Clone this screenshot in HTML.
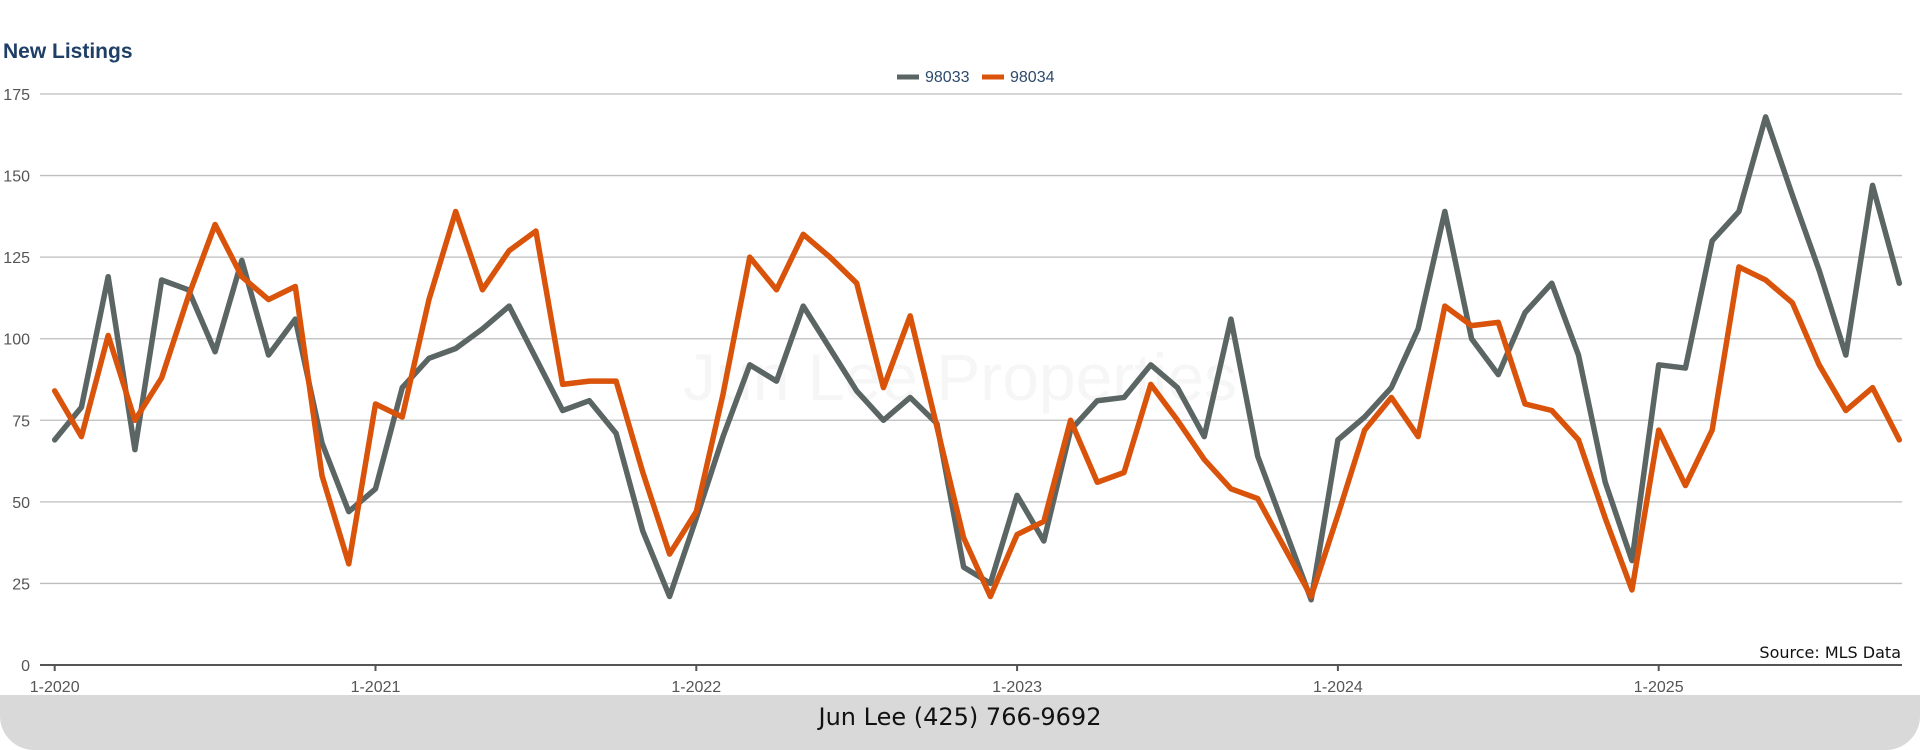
<!DOCTYPE html>
<html><head><meta charset="utf-8"><style>
html,body{margin:0;padding:0;background:#fff;}
body{width:1920px;height:750px;position:relative;overflow:hidden;font-family:"Liberation Sans",sans-serif;}
#footer{position:absolute;left:0;top:695px;width:1920px;height:55px;background:#d9d9d9;border-radius:0 0 34px 34px;}
#footer span{position:absolute;left:0;right:0;top:8px;text-align:center;font-size:24px;color:#111;font-family:"DejaVu Sans","Liberation Sans",sans-serif;}
</style></head><body>
<svg id="chart" width="1920" height="695" style="position:absolute;left:0;top:0">
<text x="3" y="58" font-size="21" font-weight="bold" fill="#1f3f66">New Listings</text>
<text x="960" y="400" text-anchor="middle" font-size="66" fill="#f6f6f6">Jun Lee Properties</text>
<g id="grid"></g><g id="lines"></g>
<g>
<line x1="897" y1="77" x2="919" y2="77" stroke="#5b6664" stroke-width="5"/>
<text x="925" y="82" font-size="16" fill="#2c4a6b">98033</text>
<line x1="982" y1="77" x2="1004" y2="77" stroke="#d9530b" stroke-width="5"/>
<text x="1010" y="82" font-size="16" fill="#2c4a6b">98034</text>
</g>
<text x="1901" y="658" text-anchor="end" font-size="16" fill="#111" font-family="DejaVu Sans, Liberation Sans, sans-serif">Source: MLS Data</text>
</svg>
<div id="footer"><span>Jun Lee (425) 766-9692</span></div>
<script>
const yTicks=[0,25,50,75,100,125,150,175];
const xTickLabels=["1-2020","1-2021","1-2022","1-2023","1-2024","1-2025"];
const s98033=[69,79,119,66,118,115,96,124,95,106,68,47,
54,85,94,97,103,110,94,78,81,71,41,21,
45,70,92,87,110,97,84,75,82,74,30,25,
52,38,72,81,82,92,85,70,106,64,42,20,
69,76,85,103,139,100,89,108,117,95,56,32,
92,91,130,139,168,144,121,95,147,117];
const s98034=[84,70,101,75,88,113,135,119,112,116,58,31,
80,76,112,139,115,127,133,86,87,87,59,34,
47,83,125,115,132,125,117,85,107,73,39,21,
40,44,75,56,59,86,75,63,54,51,36,21,
46,72,82,70,110,104,105,80,78,69,45,23,
72,55,72,122,118,111,92,78,85,69];
const NS="http://www.w3.org/2000/svg";
const X0=54.7,MONTH=320.8/12,Y0=665,YTOP=94;
const xs=i=>X0+i*MONTH;
const ys=v=>Y0-(v/175)*(Y0-YTOP);
const grid=document.getElementById('grid'),lines=document.getElementById('lines');
function mk(tag,attrs,parent){const e=document.createElementNS(NS,tag);for(const k in attrs)e.setAttribute(k,attrs[k]);parent.appendChild(e);return e;}
yTicks.forEach(v=>{
  if(v>0){const l=mk('line',{x1:40,x2:1902,y1:ys(v),y2:ys(v),stroke:'#bdbdbd','stroke-width':1.3},grid);
  
  }
  const t=mk('text',{x:30,y:ys(v)+6,'text-anchor':'end','font-size':16,fill:'#555'},grid);
  t.textContent=v;
  
  
});
const ax=mk('line',{x1:40,x2:1902,y1:Y0,y2:Y0,stroke:'#555','stroke-width':2},grid);


xTickLabels.forEach((lab,i)=>{
  const x=xs(i*12);
  const tk=mk('line',{x1:x,x2:x,y1:Y0,y2:Y0+6,stroke:'#555','stroke-width':2},grid);
  
  
  const t=mk('text',{x:x,y:692,'text-anchor':'middle','font-size':16,fill:'#555'},grid);
  t.textContent=lab;
  
  
});
function drawLine(arr,color,name){
  const p=mk('polyline',{points:arr.map((v,i)=>xs(i)+','+ys(v)).join(' '),fill:'none',stroke:color,'stroke-width':5.5,'stroke-linejoin':'round','stroke-linecap':'round'},lines);
  
  
}
drawLine(s98033,'#5b6664','series-98033-line');
drawLine(s98034,'#d9530b','series-98034-line');
</script>
</body></html>
